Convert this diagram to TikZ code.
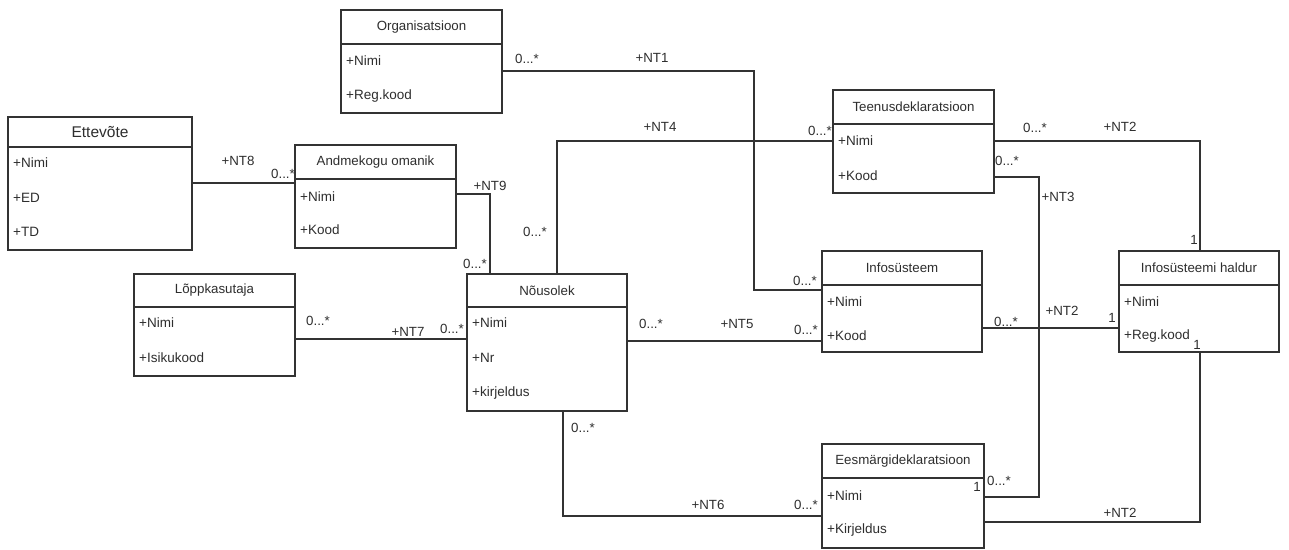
\documentclass[tikz,border=0pt]{standalone}
\usepackage{fontspec}
\setmainfont{Liberation Sans}
\usetikzlibrary{calc}
\definecolor{ink}{HTML}{333333}
\definecolor{txt}{HTML}{2E2E2E}

% class box: name, x, y, width, height, header height, title
\newcommand{\classbox}[7]{%
  \node[cbox, minimum width=#4pt, minimum height=#5pt, anchor=north west] (#1) at (#2,#3) {};
  \draw[frame] ($(#1.north west)+(0,#6)$) -- ($(#1.north east)+(0,#6)$);
  \node[ctitle] at ($(#1.north)+(0,#6/2)$) {#7};
}
% attribute row: box name, offset from top, text
\newcommand{\attrrow}[3]{%
  \node[cattr] at ($(#1.north west)+(4,#2)$) {#3};
}

\begin{document}
\begin{tikzpicture}[x=1pt,y=-1pt,
  frame/.style={draw=ink, line width=1.2pt},
  cbox/.style={rectangle, draw=ink, line width=1.2pt, fill=white, inner sep=0pt, outer sep=0pt},
  ctitle/.style={text=txt, font=\fontsize{13.3}{15}\selectfont, inner sep=0pt},
  cattr/.style={text=txt, font=\fontsize{13.5}{15}\selectfont, anchor=west, inner sep=1pt},
  conn/.style={draw=ink, line width=1.2pt},
  lbl/.style={text=txt, font=\fontsize{13.3}{15}\selectfont, inner sep=0pt},
]
\useasboundingbox[fill=white] (0,0) rectangle (1289,549);

% classes
\classbox{org}{341}{10}{161}{103}{34}{Organisatsioon}
\attrrow{org}{51}{+Nimi}
\attrrow{org}{86}{+Reg.kood}

\node[cbox, minimum width=184pt, minimum height=133pt, anchor=north west] (ett) at (8,117) {};
\draw[frame] ($(ett.north west)+(0,30)$) -- ($(ett.north east)+(0,30)$);
\node[ctitle, font=\fontsize{15.5}{17}\selectfont] at ($(ett.north)+(0,15)$) {Ettevõte};
\attrrow{ett}{46}{+Nimi}
\attrrow{ett}{81}{+ED}
\attrrow{ett}{115}{+TD}

\classbox{and}{295}{145}{161}{103}{34}{Andmekogu omanik}
\attrrow{and}{52}{+Nimi}
\attrrow{and}{85}{+Kood}

\classbox{lop}{134}{274}{161}{102}{33}{Lõppkasutaja}
\attrrow{lop}{49}{+Nimi}
\attrrow{lop}{84}{+Isikukood}

\classbox{nous}{467}{274}{160}{137}{33}{Nõusolek}
\attrrow{nous}{49}{+Nimi}
\attrrow{nous}{84}{+Nr}
\attrrow{nous}{119}{+kirjeldus}

\classbox{teen}{833}{90}{161}{103}{34}{Teenusdeklaratsioon}
\attrrow{teen}{51}{+Nimi}
\attrrow{teen}{86}{+Kood}

\classbox{info}{822}{251}{160}{101}{34}{Infosüsteem}
\attrrow{info}{51}{+Nimi}
\attrrow{info}{85}{+Kood}

\classbox{hald}{1119}{251}{160}{101}{34}{Infosüsteemi haldur}
\attrrow{hald}{51}{+Nimi}
\attrrow{hald}{85}{+Reg.kood}

\classbox{ees}{822}{444}{162}{104}{34}{Eesmärgideklaratsioon}
\attrrow{ees}{52}{+Nimi}
\attrrow{ees}{86}{+Kirjeldus}

% associations
\draw[conn] (ett.east |- 0,183) -- (and.west |- 0,183);
\node[lbl] at (238,161) {+NT8};
\node[lbl] at (283,174) {0...*};

\draw[conn] (and.east |- 0,194) -| (nous.north -| 490,0);
\node[lbl] at (490,186) {+NT9};
\node[lbl] at (475,264) {0...*};

\draw[conn] (org.east |- 0,71) -| (754,290) -- (info.west |- 0,290);
\node[lbl] at (527,59) {0...*};
\node[lbl] at (652,58) {+NT1};
\node[lbl] at (805,281) {0...*};

\draw[conn] (nous.north -| 557,0) |- (teen.west |- 0,141);
\node[lbl] at (660,127) {+NT4};
\node[lbl] at (820,131) {0...*};
\node[lbl] at (535,232) {0...*};

\draw[conn] (teen.east |- 0,141) -| (hald.north -| 1200,0);
\node[lbl] at (1035,128) {0...*};
\node[lbl] at (1120,127) {+NT2};
\node[lbl] at (1194,240) {1};

\draw[conn] (teen.east |- 0,177) -| (1039,497) -- (ees.east |- 0,497);
\node[lbl] at (1007,161) {0...*};
\node[lbl] at (1058,197) {+NT3};
\node[lbl] at (999,481) {0...*};
\node[lbl] at (977,487) {1};

\draw[conn] (nous.east |- 0,341) -- (info.west |- 0,341);
\node[lbl] at (651,324) {0...*};
\node[lbl] at (737,324) {+NT5};
\node[lbl] at (806,330) {0...*};

\draw[conn] (info.east |- 0,328) -- (hald.west |- 0,328);
\node[lbl] at (1006,322) {0...*};
\node[lbl] at (1062,311) {+NT2};
\node[lbl] at (1112,318) {1};

\draw[conn] (ees.east |- 0,522) -| (hald.south -| 1200,0);
\node[lbl] at (1120,513) {+NT2};
\node[lbl] at (1197,345) {1};

\draw[conn] (nous.south -| 563,0) |- (ees.west |- 0,516);
\node[lbl] at (583,428) {0...*};
\node[lbl] at (708,505) {+NT6};
\node[lbl] at (806,505) {0...*};

\draw[conn] (lop.east |- 0,339) -- (nous.west |- 0,339);
\node[lbl] at (318,321) {0...*};
\node[lbl] at (408,332) {+NT7};
\node[lbl] at (452,329) {0...*};
\end{tikzpicture}
\end{document}
